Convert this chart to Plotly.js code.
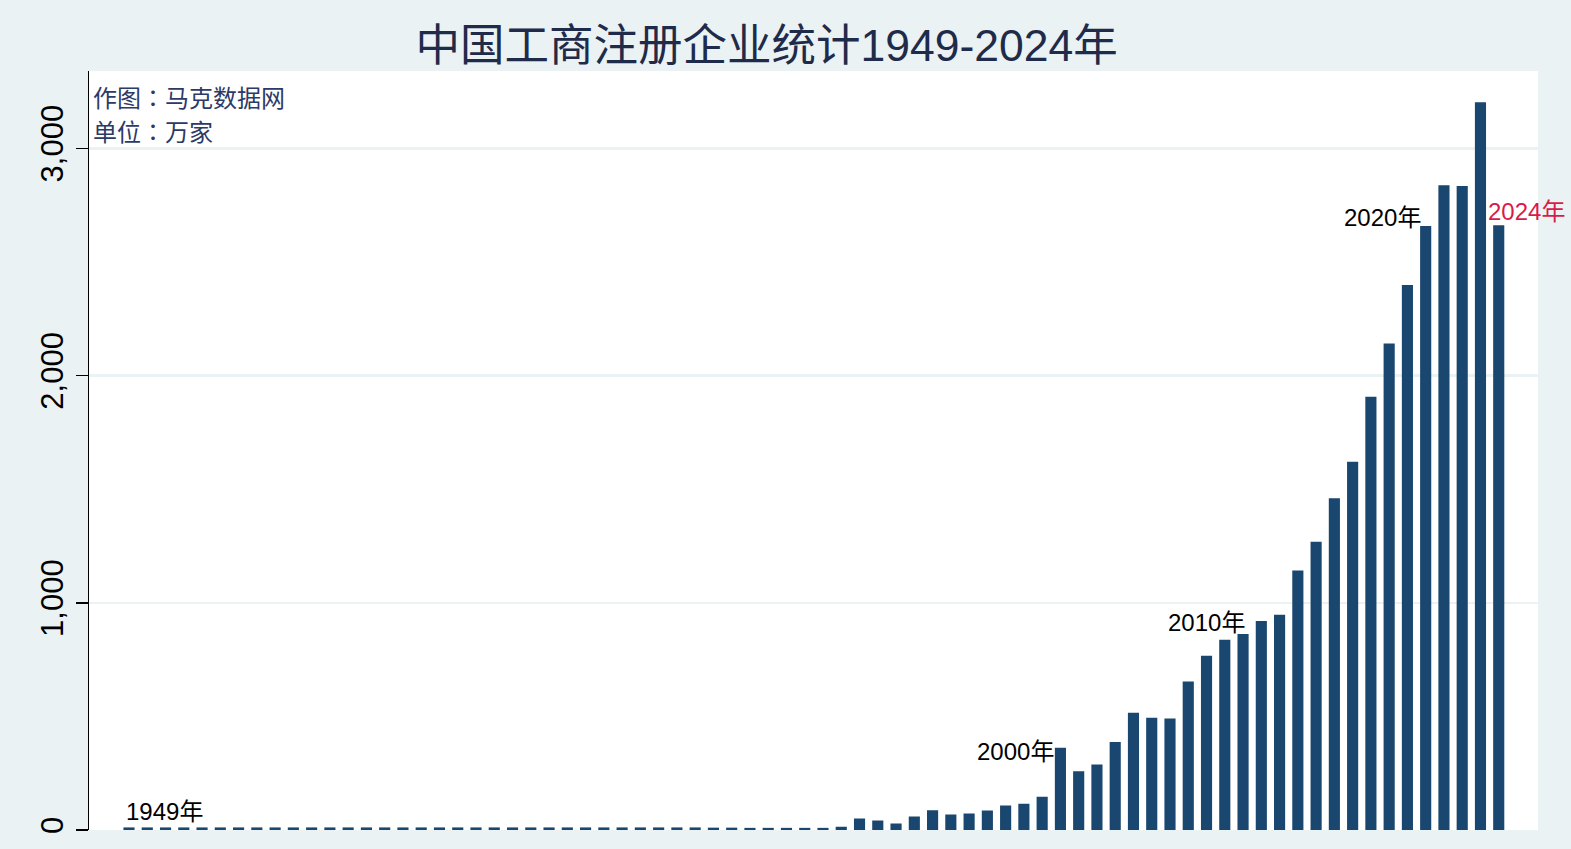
<!DOCTYPE html>
<html>
<head>
<meta charset="utf-8">
<script src="https://cdn.plot.ly/plotly-3.0.1.min.js"></script>
<style>
  html, body { margin: 0; padding: 0; background: #eaf2f3; }
  #chart { width: 1571px; height: 849px; }
</style>
</head>
<body>
<div id="chart"></div>
<script>
// 年份 1949-2024
var years = [
  1949, 1950, 1951, 1952, 1953, 1954, 1955, 1956, 1957, 1958,
  1959, 1960, 1961, 1962, 1963, 1964, 1965, 1966, 1967, 1968,
  1969, 1970, 1971, 1972, 1973, 1974, 1975, 1976, 1977, 1978,
  1979, 1980, 1981, 1982, 1983, 1984, 1985, 1986, 1987, 1988,
  1989, 1990, 1991, 1992, 1993, 1994, 1995, 1996, 1997, 1998,
  1999, 2000, 2001, 2002, 2003, 2004, 2005, 2006, 2007, 2008,
  2009, 2010, 2011, 2012, 2013, 2014, 2015, 2016, 2017, 2018,
  2019, 2020, 2021, 2022, 2023, 2024
];

// 工商注册企业数（万家）
var counts = [
  7, 7, 7, 7, 7, 7, 7, 7, 7, 7,
  7, 7, 7, 7, 7, 7, 7, 7, 7, 7,
  7, 7, 7, 7, 7, 7, 7, 7, 7, 7,
  7, 7, 6, 6, 5, 5, 5, 5, 5, 10,
  46, 37, 24, 55, 83, 64, 68, 81, 103, 111,
  142, 357, 254, 284, 383, 512, 490, 486, 649, 762,
  833, 858, 915, 943, 1138, 1264, 1456, 1616, 1902, 2136,
  2394, 2654, 2833, 2830, 3198, 2657
];

// 标注的年份
var labelYears = [1949, 2000, 2010, 2020, 2024];

// 标注的摆放（像素偏移）
var labelStyle = {
  1949: {xanchor: 'left',  xshift: -5, yshift: 17, color: '#000000'},
  2000: {xanchor: 'right', xshift: -4, yshift: -3, color: '#000000'},
  2010: {xanchor: 'right', xshift: 4,  yshift: 13, color: '#000000'},
  2020: {xanchor: 'right', xshift: -3, yshift: 9,  color: '#000000'},
  2024: {xanchor: 'left',  xshift: -13, yshift: 15, color: '#d81b4a'}
};

var latinCjk = 'Liberation Sans, Arial, Noto Sans CJK SC, sans-serif';
var noteFont = 'Noto Sans CJK TC, Noto Sans CJK SC, sans-serif';

try {
  var trace = {
    type: 'bar',
    x: years,
    y: counts,
    width: 0.5,
    marker: {
      color: '#1a476f',
      line: {color: '#1a476f', width: 2}
    },
    cliponaxis: false,
    hoverinfo: 'x+y'
  };

  var annotations = labelYears.map(function (yr) {
    var st = labelStyle[yr];
    return {
      x: yr,
      y: counts[years.indexOf(yr)],
      xref: 'x',
      yref: 'y',
      text: yr + '年',
      showarrow: false,
      xanchor: st.xanchor,
      yanchor: 'middle',
      xshift: st.xshift,
      yshift: st.yshift,
      font: {family: latinCjk, size: 24, color: st.color}
    };
  });

  annotations.push({
    x: 0.0014, y: 0.966, xref: 'paper', yref: 'paper',
    text: '作图：马克数据网', showarrow: false,
    xanchor: 'left', yanchor: 'middle',
    font: {family: noteFont, size: 24, color: '#2c3a66'}
  });
  annotations.push({
    x: 0.0014, y: 0.921, xref: 'paper', yref: 'paper',
    text: '单位：万家', showarrow: false,
    xanchor: 'left', yanchor: 'middle',
    font: {family: noteFont, size: 24, color: '#2c3a66'}
  });

  var layout = {
    width: 1571,
    height: 849,
    paper_bgcolor: '#eaf2f3',
    plot_bgcolor: '#ffffff',
    margin: {l: 89, r: 33, t: 71, b: 19, pad: 0},
    showlegend: false,
    title: {
      text: '中国工商注册企业统计1949-2024年',
      x: 0.488,
      xref: 'container',
      xanchor: 'center',
      y: 0.947,
      yref: 'container',
      yanchor: 'middle',
      font: {family: latinCjk, size: 44.5, color: '#1e2b4a'}
    },
    xaxis: {
      range: [1946.81, 2026.15],
      showticklabels: false,
      ticks: '',
      showgrid: false,
      zeroline: false,
      showline: false
    },
    yaxis: {
      range: [0, 3340],
      tickvals: [0, 1000, 2000, 3000],
      ticktext: ['0', '1,000', '2,000', '3,000'],
      tickangle: -90,
      ticks: 'outside',
      ticklen: 12,
      tickwidth: 1.5,
      tickcolor: '#000000',
      showline: true,
      linecolor: '#000000',
      linewidth: 1.5,
      showgrid: true,
      gridcolor: '#eaf2f3',
      gridwidth: 2.5,
      zeroline: false,
      tickfont: {family: 'Liberation Sans, Arial, sans-serif', size: 31, color: '#000000'}
    },
    annotations: annotations
  };

  Plotly.newPlot('chart', [trace], layout, {displayModeBar: false, staticPlot: true});
} catch (e) {
  console.log('failed');
  console.log(e);
}
</script>
</body>
</html>
